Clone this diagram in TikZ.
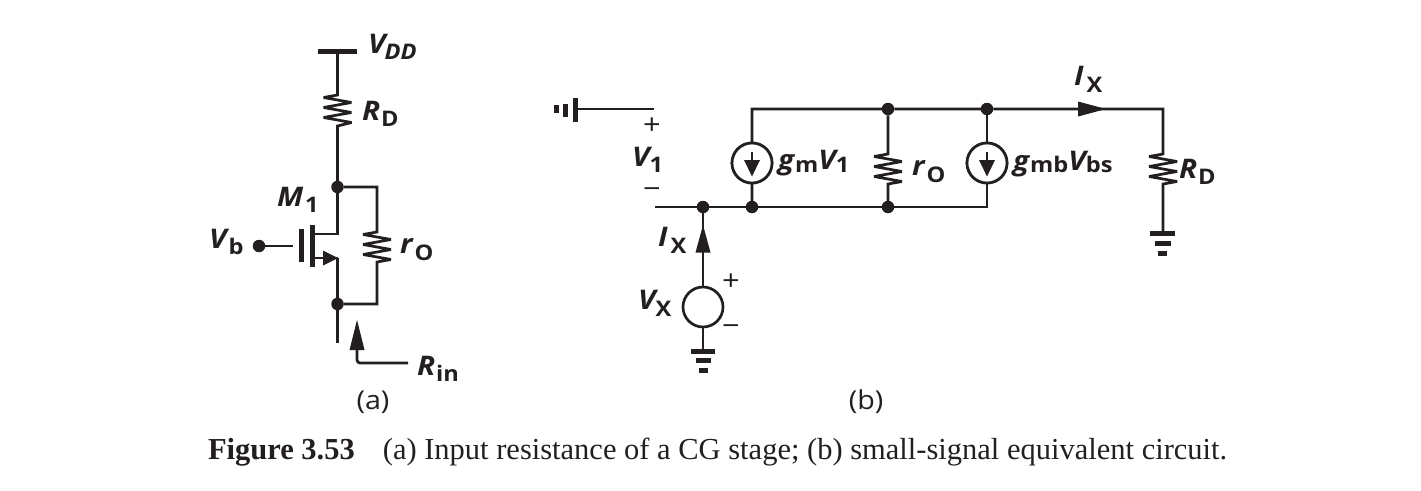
\documentclass[tikz,border=0pt]{standalone}
\usepackage{fontspec}
\setmainfont{Liberation Serif}
\newfontfamily\labfont{Open Sans}[FakeStretch=1.1]
\usetikzlibrary{arrows.meta}
\definecolor{ink}{HTML}{231F20}
\newcommand{\mainv}[1]{{\fontsize{27}{27}\selectfont\bfseries\itshape #1}}
\newcommand{\subl}[2][6]{\raisebox{-#1pt}{\fontsize{21.5}{21}\selectfont\bfseries #2}}
\newcommand{\subi}[2][6]{\raisebox{-#1pt}{\fontsize{21.5}{21}\selectfont\bfseries\itshape #2}}
\tikzset{
  every node/.style={text=ink,inner sep=0pt,outer sep=0pt},
  wire/.style={draw=ink,line width=2.7pt,miter limit=4},
  thick bar/.style={draw=ink,line width=5pt},
  dot/.style={circle,fill=ink,minimum size=12.5pt,inner sep=0pt},
  srcc/.style={circle,draw=ink,line width=2.7pt,fill=white,minimum size=40pt,inner sep=0pt},
  lab/.style={anchor=base west,font=\labfont},
  sign/.style={font=\labfont\fontsize{28}{28}\selectfont},
  paren/.style={anchor=base,font=\labfont\fontsize{26}{27}\selectfont},
  zig/.style={to path={-- ++(-14,2.5) -- ++(28,5) -- ++(-28,5) -- ++(28,5) -- ++(-28,5) -- ++(28,5) -- (\tikztotarget)}},
}
\begin{document}
\begin{tikzpicture}[x=1pt,y=-1pt]
\useasboundingbox (0,0) rectangle (1421,490);
% ---------- (a)
\coordinate (vddl) at (318,51);
\coordinate (vddr) at (357,51);
\coordinate (vdd) at (337.5,51);
\coordinate (rdt) at (337.5,95);
\coordinate (rdb) at (337.5,126);
\node[dot] (dn) at (337.5,187) {};
\node[dot] (sn) at (337.5,304) {};
\coordinate (dc) at (377,187);
\coordinate (roat) at (377,232);
\coordinate (roab) at (377,262);
\coordinate (sc) at (377,304);
\coordinate (mdr) at (337.5,234);
\coordinate (mdl) at (312,234);
\coordinate (msr) at (337.5,258);
\coordinate (msl) at (312,258);
\coordinate (bot) at (337.5,343);
\coordinate (cht) at (312,225);
\coordinate (chb) at (312,267);
\coordinate (gt) at (301.5,229);
\coordinate (gb) at (301.5,262);
\coordinate (gw) at (293,246);
\node[dot] (vbd) at (259,246) {};
\coordinate (rinc) at (357,363);
\coordinate (rine) at (408,363);
\draw[thick bar] (vddl) -- (vddr);
\draw[wire] (vdd) -- (rdt) to[zig] (rdb) -- (dn);
\draw[wire] (dn) -- (dc) -- (roat) to[zig] (roab) -- (sc) -- (sn);
\draw[wire] (dn) -- (mdr) -- (mdl);
\draw[wire] (msl) -- (msr);
\fill[ink] (323,250.5) -- (338,258) -- (323,265.5) -- cycle;
\draw[wire] (msr) -- (sn) -- (bot);
\draw[thick bar] (cht) -- (chb);
\draw[thick bar] (gt) -- (gb);
\draw[wire] (vbd) -- (gw);
\draw[wire,rounded corners=3pt] (rine) -- (rinc) -- (357,345);
\fill[ink] (349.5,350) -- (357,320) -- (364.5,350) -- cycle;
\node[lab] (lvdd) at (368,53) {\mainv{V}\hspace{-1pt}\subi{DD}};
\node[lab] (lrd) at (362,120) {\mainv{R}\hspace{1pt}\subl{D}};
\node[lab] (lm) at (277,206) {\mainv{M}\hspace{2pt}\subl{1}};
\node[lab] (lvb) at (209,248) {\mainv{V}\hspace{2pt}\subl{b}};
\node[lab] (lroa) at (400,253) {\mainv{r}\hspace{2pt}\subl[7]{O}};
\node[lab] (lrin) at (417,375) {\mainv{R}\hspace{1pt}\subl{in}};
\node[paren] (cap1) at (373,409) {(a)};
% ---------- (b)
\coordinate (gl) at (575.5,109);
\coordinate (v1t) at (654,109);
\coordinate (v1b) at (655,207);
\node[dot] (n1) at (703,207) {};
\node[dot] (n2) at (752,207) {};
\node[dot] (n3) at (888,207) {};
\coordinate (c4) at (987,207);
\coordinate (tl) at (752,109);
\node[dot] (t1) at (888,109) {};
\node[dot] (t2) at (987,109) {};
\coordinate (tr) at (1163,109);
\node[srcc] (s1) at (752,163) {};
\node[srcc] (s2) at (987,163) {};
\coordinate (robt) at (888,154);
\coordinate (robb) at (888,184);
\coordinate (rdbt) at (1163,154);
\coordinate (rdbb) at (1163,184);
\coordinate (g2) at (1163,233);
\node[srcc] (vx) at (703,307) {};
\coordinate (g3) at (703,351);
\draw[thick bar] (575.5,97.5) -- (575.5,122);
\draw[thick bar] (565,104) -- (565,116.5);
\draw[thick bar] (556,105) -- (556,113);
\draw[wire] (gl) -- (v1t);
\draw[wire] (v1b) -- (n1) -- (n2) -- (n3) -- (c4) -- (s2);
\draw[wire] (n2) -- (s1) -- (tl) -- (t1) -- (t2) -- (tr) -- (rdbt) to[zig] (rdbb) -- (g2);
\draw[wire] (t1) -- (robt) to[zig] (robb) -- (n3);
\draw[wire] (t2) -- (s2);
\fill[ink] (1078,101.5) -- (1106,109) -- (1078,116.5) -- cycle;
\node[srcc] at (s1) {};
\node[srcc] at (s2) {};
\draw[wire] (752,152) -- (752,162);
\fill[ink] (744,160) -- (760,160) -- (752,176.5) -- cycle;
\draw[wire] (987,152) -- (987,162);
\fill[ink] (979,160) -- (995,160) -- (987,176.5) -- cycle;
\draw[wire] (n1) -- (vx);
\fill[ink] (695.5,252.5) -- (703,225) -- (710.5,252.5) -- cycle;
\draw[wire] (vx) -- (g3);
\draw[thick bar] (691,351) -- (715,351);
\draw[thick bar] (696,360) -- (711,360);
\draw[thick bar] (699,370) -- (708,370);
\draw[thick bar] (1150,233) -- (1175,233);
\draw[thick bar] (1154.5,243) -- (1170.5,243);
\draw[thick bar] (1158,253) -- (1167,253);
\node[sign] (p1) at (652,126) {+};
\node[sign] (m1) at (652,193) {\char"2212};
\node[sign] (p2) at (731,282) {+};
\node[sign] (m2) at (731,330) {\char"2212};
\node[lab] (lv1) at (632,166) {\mainv{V}\hspace{0pt}\subl{1}};
\node[lab] (lgm) at (778,169) {\mainv{g}\hspace{1pt}\subl[3]{m}\mainv{V}\subl[3]{1}};
\node[lab] (lrob) at (912,175) {\mainv{r}\hspace{2pt}\subl[7]{O}};
\node[lab] (lgmb) at (1013,170) {\mainv{g}\hspace{1pt}\subl[2]{mb}\mainv{V}\subl[2]{bs}};
\node[lab] (lrdb) at (1179,178) {\mainv{R}\hspace{1pt}\subl{D}};
\node[lab] (lix) at (1074,85) {\mainv{I}\hspace{3pt}\subl[7]{X}};
\node[lab] (lix2) at (658,246) {\mainv{I}\hspace{3pt}\subl[7]{X}};
\node[lab] (lvx) at (638,309) {\mainv{V}\hspace{0pt}\subl[7]{X}};
\node[paren] (cap2) at (866,409) {(b)};
% ---------- caption
\node[anchor=base west,font=\fontsize{30.5}{30}\selectfont] (fig) at (208,459) {\textbf{Figure 3.53}\hspace{28pt}(a) Input resistance of a CG stage; (b) small-signal equivalent circuit.};
\end{tikzpicture}
\end{document}
